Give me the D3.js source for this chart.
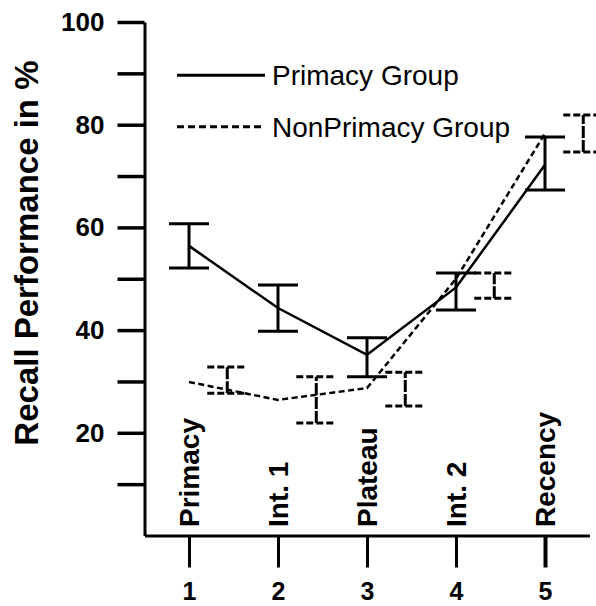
<!DOCTYPE html>
<html>
<head>
<meta charset="utf-8">
<script src="https://d3js.org/d3.v7.min.js"></script>
<style>
  body { margin: 0; background: #fff; }
  svg { display: block; font-family: "Liberation Sans", Arial, Helvetica, sans-serif; }
</style>
</head>
<body>
<div id="chart"></div>
<script>
// serial position categories
var positions = [1, 2, 3, 4, 5];
var categories = ["Primacy", "Int. 1", "Plateau", "Int. 2", "Recency"];

// recall performance (%)
var primacyMean = [56.4, 44.3, 35.2, 48.3, 72.2];
var primacyLow  = [52.1, 39.8, 30.9, 43.9, 67.3];
var primacyHigh = [60.7, 48.8, 38.5, 51.1, 77.6];

var nonPrimacyMean = [29.9, 26.4, 28.7, 50.0, 78.3];
var nonPrimacyLow  = [27.7, 21.9, 25.2, 46.2, 74.7];
var nonPrimacyHigh = [32.8, 30.9, 31.8, 51.1, 81.9];

var yTicks = [10, 20, 30, 40, 50, 60, 70, 80, 90, 100];
var yLabels = [20, 40, 60, 80, 100];

var width = 596, height = 606;

var svg = d3.select("#chart").append("svg")
    .attr("width", width)
    .attr("height", height);

// set the ranges
var x = d3.scaleLinear().domain([0.5, 5.5]).range([144.5, 589.5]);
var y = d3.scaleLinear().domain([0, 100]).range([535.5, 22]);

var barOffset = 0.43;   // NonPrimacy error bars sit to the right
var capHalf = 20;

// y axis
var yAxis = svg.append("g")
    .attr("transform", "translate(" + x(0.5) + ",0)")
    .call(d3.axisLeft(y)
      .tickValues(yTicks)
      .tickSize(27)
      .tickSizeOuter(0)
      .tickPadding(13)
      .tickFormat(function(d) { return yLabels.indexOf(d) >= 0 ? d : ""; }));
yAxis.select(".domain").attr("stroke", "#000").attr("stroke-width", 3);
yAxis.selectAll(".tick line").attr("stroke", "#000").attr("stroke-width", 3.5);
yAxis.selectAll(".tick text")
    .attr("fill", "#000")
    .style("font-size", "26px")
    .style("font-weight", "bold");

// x axis
var xAxis = svg.append("g")
    .attr("transform", "translate(0," + y(0) + ")")
    .call(d3.axisBottom(x)
      .tickValues(positions)
      .tickSize(32)
      .tickSizeOuter(0)
      .tickPadding(15)
      .tickFormat(d3.format("d")));
xAxis.select(".domain").attr("stroke", "#000").attr("stroke-width", 3);
xAxis.selectAll(".tick line").attr("stroke", "#000")
    .attr("stroke-width", function(d) { return d === 5 ? 4 : 3; });
xAxis.selectAll(".tick text")
    .attr("fill", "#000")
    .style("font-size", "25px")
    .style("font-weight", "bold");

// category labels, rotated
svg.selectAll(".cat")
    .data(categories)
  .enter().append("text")
    .attr("class", "cat")
    .attr("transform", function(d, i) { return "translate(" + x(positions[i]) + ",527) rotate(-90)"; })
    .attr("dy", "0.36em")
    .style("font-size", "28px")
    .style("font-weight", "bold")
    .text(function(d) { return d; });

// y axis label
svg.append("text")
    .attr("transform", "translate(38," + y(55) + ") rotate(-90)")
    .style("text-anchor", "middle")
    .style("font-size", "33px")
    .style("font-weight", "bold")
    .text("Recall Performance in %");

function drawSeries(mean, low, high, offset, dash) {
  var g = svg.append("g");
  var line = d3.line()
      .x(function(d, i) { return x(positions[i]); })
      .y(function(d) { return y(d); });

  g.append("path")
      .datum(mean)
      .attr("d", line)
      .attr("fill", "none")
      .attr("stroke", "#000")
      .attr("stroke-width", 2.5)
      .attr("stroke-dasharray", dash ? "6,3.5" : null);

  var bars = g.selectAll(".err")
      .data(positions)
    .enter().append("g")
      .attr("class", "err")
      .attr("stroke", "#000")
      .attr("stroke-width", 3);

  bars.append("line")
      .attr("stroke-dasharray", dash ? "12,2" : null)
      .attr("x1", function(d) { return x(d + offset); })
      .attr("x2", function(d) { return x(d + offset); })
      .attr("y1", function(d, i) { return y(low[i]); })
      .attr("y2", function(d, i) { return y(high[i]); });
  bars.append("line")
      .attr("stroke-dasharray", dash ? "7,3" : null)
      .attr("x1", function(d) { return x(d + offset) - capHalf; })
      .attr("x2", function(d) { return x(d + offset) + capHalf; })
      .attr("y1", function(d, i) { return y(high[i]); })
      .attr("y2", function(d, i) { return y(high[i]); });
  bars.append("line")
      .attr("stroke-dasharray", dash ? "7,3" : null)
      .attr("x1", function(d) { return x(d + offset) - capHalf; })
      .attr("x2", function(d) { return x(d + offset) + capHalf; })
      .attr("y1", function(d, i) { return y(low[i]); })
      .attr("y2", function(d, i) { return y(low[i]); });
}

drawSeries(primacyMean, primacyLow, primacyHigh, 0, false);
drawSeries(nonPrimacyMean, nonPrimacyLow, nonPrimacyHigh, barOffset, true);

// legend
var legend = [
  {label: "Primacy Group", dash: false, value: 90},
  {label: "NonPrimacy Group", dash: true, value: 80}
];
var lg = svg.selectAll(".legend")
    .data(legend)
  .enter().append("g")
    .attr("class", "legend")
    .attr("transform", function(d) { return "translate(177," + (y(d.value) + 2) + ")"; });
lg.append("line")
    .attr("x1", 0).attr("x2", 88)
    .attr("stroke", "#000")
    .attr("stroke-width", 3)
    .attr("stroke-dasharray", function(d) { return d.dash ? "7,4" : null; });
lg.append("text")
    .attr("x", 95)
    .attr("dy", "0.36em")
    .style("font-size", "28px")
    .text(function(d) { return d.label; });
</script>
</body>
</html>
